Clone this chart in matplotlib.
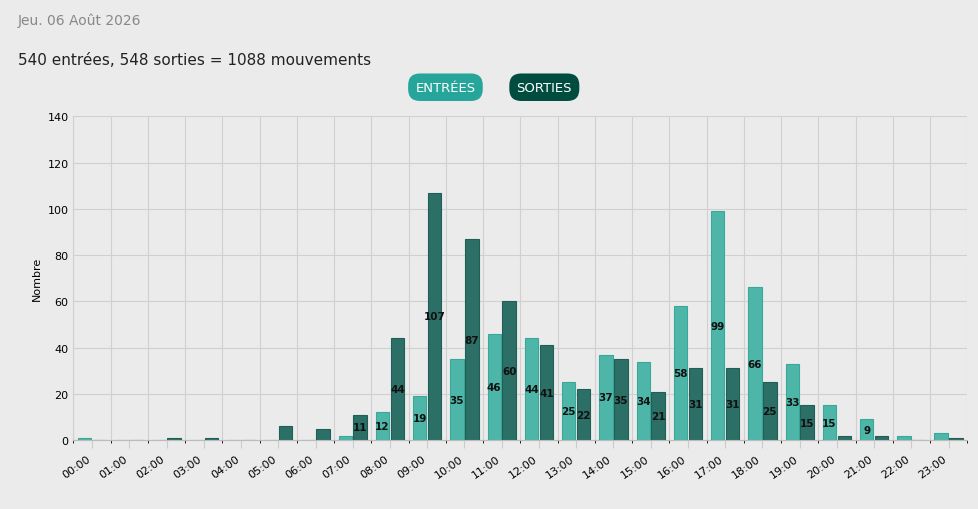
import matplotlib
matplotlib.use("Agg")
import matplotlib.pyplot as plt
import numpy as np
from matplotlib.patches import FancyBboxPatch

hours = [f"{h:02d}:00" for h in range(24)]
entrees = [1,0,0,0,0,0,0,2,12,19,35,46,44,25,37,34,58,99,66,33,15,9,2,3]
sorties = [0,0,1,1,0,6,5,11,44,107,87,60,41,22,35,21,31,31,25,15,2,2,0,1]

bg = "#ebebeb"
c_in = "#4db6a8"
c_out = "#2b6f66"
fig = plt.figure(figsize=(9.79,5.10), dpi=100, facecolor=bg)
ax = fig.add_axes([0.075, 0.135, 0.913, 0.635])
ax.set_facecolor(bg)
x = np.arange(24)
w = 0.36
b1 = ax.bar(x-0.2, entrees, w, color=c_in, edgecolor="#3aa898", linewidth=0.8)
b2 = ax.bar(x+0.2, sorties, w, color=c_out, edgecolor="#1f5f57", linewidth=0.8)
for bars, vals in ((b1, entrees), (b2, sorties)):
    for r, v in zip(bars, vals):
        if v >= 9:
            ax.text(r.get_x()+r.get_width()/2, v/2, str(v), ha="center", va="center",
                    fontsize=7.5, fontweight="bold", color="#111")
ax.set_xlim(-0.5, 23.5)
ax.set_ylim(0, 140)
ax.set_yticks(range(0, 141, 20))
ax.set_xticks(x)
ax.set_xticklabels(hours, rotation=35, ha="right", fontsize=8)
ax.tick_params(axis="y", labelsize=8, length=0)
ax.tick_params(axis="x", length=6, color="#ccc")
ax.set_xticks(np.arange(-0.5, 24, 1), minor=True)
ax.grid(True, which="minor", axis="x", color="#d0d0d0", lw=0.8)
ax.grid(True, which="major", axis="y", color="#d0d0d0", lw=0.8)
ax.set_axisbelow(True)
for s in ["top", "right"]:
    ax.spines[s].set_visible(False)
ax.spines["left"].set_color("#d0d0d0")
ax.spines["bottom"].set_color("#bbb")
ax.set_ylabel("Nombre", fontsize=8)

fig.text(0.018, 0.96, "Jeu. 06 Août 2026", fontsize=10, color="#888", va="center")
fig.text(0.018, 0.882, f"{sum(entrees)} entrées, {sum(sorties)} sorties = {sum(entrees)+sum(sorties)} mouvements",
         fontsize=11, color="#222", va="center")
for cx, label, col in ((0.455, "ENTRÉES", "#26a69a"), (0.556, "SORTIES", "#004d40")):
    fig.text(cx, 0.827, label, fontsize=9.5, color="white", ha="center", va="center",
             bbox=dict(boxstyle="round,pad=0.55,rounding_size=0.9", fc=col, ec="none"))
fig.savefig("out.png", facecolor=bg)
